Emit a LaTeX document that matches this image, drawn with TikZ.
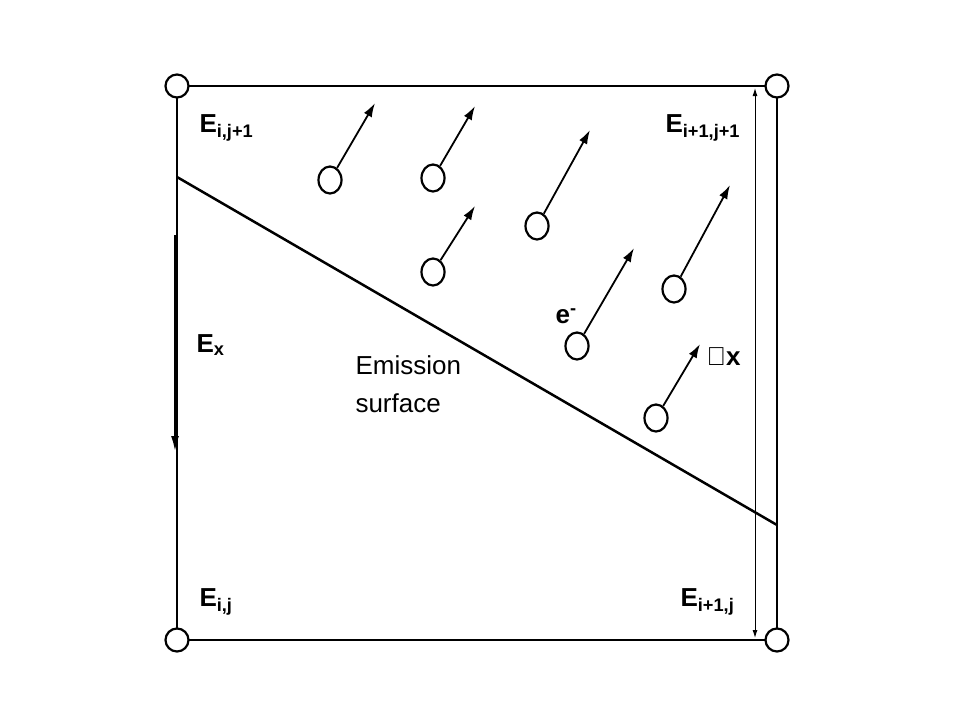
\documentclass[tikz,border=0pt]{standalone}
\usepackage{fontspec}
\setmainfont{Liberation Sans}
\usetikzlibrary{arrows.meta,shapes.geometric}
\begin{document}
\begin{tikzpicture}[x=1pt,y=-1pt,>=Latex,line join=bevel,
  grid/.style={circle, draw=black, line width=2.2pt, fill=white, minimum size=23pt, inner sep=0pt},
  elec/.style={ellipse, draw=black, line width=2.2pt, fill=white, minimum width=23pt, minimum height=27pt, inner sep=0pt},
  lab/.style={font=\fontsize{26}{28}\selectfont\bfseries, anchor=west},
  vel/.style={line width=1.8pt, -{Latex[length=14pt,width=9pt]}}]
  \useasboundingbox (0,0) rectangle (960,720);
  % Box
  \draw [line width=2.5pt] (177,86) rectangle (777,640);
  % Emission surface
  \coordinate (s0) at (177,177);
  \coordinate (s1) at (777,525);
  \draw [line width=2.5pt] (s0) -- (s1);
  % Field arrow
  \coordinate (ex0) at (175,235);
  \coordinate (ex1) at (175,452);
  \draw [line width=2.5pt, -{Latex[length=16pt,width=8pt]}] (ex0) -- (ex1);
  % Cell size
  \coordinate (dx0) at (755,88);
  \coordinate (dx1) at (755,638);
  \draw [line width=1pt, {Latex[length=8pt,width=5pt]}-{Latex[length=8pt,width=5pt]}] (dx0) -- (dx1);
  % Grid nodes
  \node (g00) at (177,640) [grid] {};
  \node (g10) at (777,640) [grid] {};
  \node (g01) at (177,86) [grid] {};
  \node (g11) at (777,86) [grid] {};
  % Electrons
  \foreach \n/\cx/\cy/\tx/\ty in {a/330/180/375/103, b/433/178/475/106, c/537/226/590/130,
      d/433/272/475/206, e/577/346/634/248, f/674/289/730/185, g/656/418/700/344} {
    \node (\n) at (\cx,\cy) [elec] {};
    \coordinate (\n t) at (\tx,\ty);
    \draw [vel] (\n) -- (\n t);
  }
  % Labels
  \node (l01) at (196,128) [lab] {E\textsubscript{i,j+1}};
  \node (l11) at (662,128) [lab] {E\textsubscript{i+1,j+1}};
  \node (l00) at (196,602) [lab] {E\textsubscript{i,j}};
  \node (l10) at (677,602) [lab] {E\textsubscript{i+1,j}};
  \node (lex) at (193,345) [lab] {E\textsubscript{x}};
  \node (lel) at (552,316) [lab] {e\textsuperscript{-}};
  \node (ldx) at (703,357) [lab] {$\mathbf{\Delta}$x};
  \node (lem) at (352,384) [anchor=west, align=left, font=\fontsize{26}{38}\selectfont] {Emission\\surface};
\end{tikzpicture}
\end{document}
